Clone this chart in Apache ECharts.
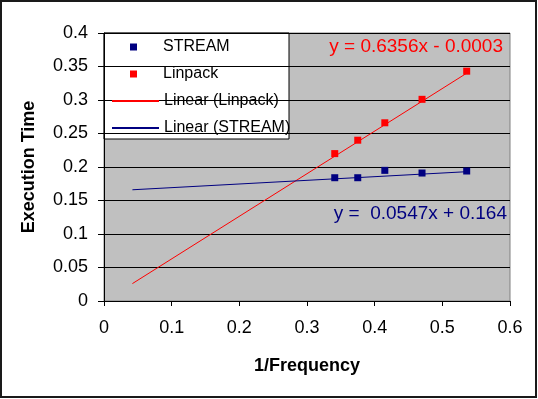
<!DOCTYPE html>
<html>
<head>
<meta charset="utf-8">
<script src="https://cdn.jsdelivr.net/npm/echarts@6/dist/echarts.min.js"></script>
<style>
  html, body { margin: 0; padding: 0; background: #fff; }
  #chart { width: 538px; height: 399px; }
</style>
</head>
<body>
<div id="chart"></div>
<script>
// values
const invFreq = [0.341, 0.375, 0.415, 0.470, 0.536]
const linpack = [0.220, 0.240, 0.266, 0.301, 0.343]
const stream = [0.184, 0.184, 0.195, 0.191, 0.194]
// trend lines (endpoints as drawn)
const trendX = [0.042, 0.536]
const linpackTrend = [0.026, 0.340]
const streamTrend = [0.166, 0.193]
const xTicks = ['0', '0.1', '0.2', '0.3', '0.4', '0.5', '0.6']
const yTicks = ['0', '0.05', '0.1', '0.15', '0.2', '0.25', '0.3', '0.35', '0.4']

const pairs = (xs, ys) => xs.map((x, i) => [x, ys[i]])
const font = 'Liberation Sans, Arial, sans-serif'

const chart = echarts.init(document.getElementById('chart'))

chart.setOption({
  animation: false,
  textStyle: { fontFamily: font },
  grid: {
    left: 104, top: 33, right: 28, bottom: 98,
    show: true,
    backgroundColor: '#c0c0c0',
    borderColor: '#808080',
    borderWidth: 1
  },
  xAxis: {
    type: 'value',
    min: 0, max: 0.6, interval: 0.1,
    name: '1/Frequency',
    nameLocation: 'middle',
    nameGap: 56,
    nameTextStyle: { fontSize: 18, fontWeight: 'bold', color: '#000' },
    axisLine: { show: true, lineStyle: { color: '#000', width: 1 } },
    axisTick: { show: true, length: 5, lineStyle: { color: '#000' } },
    axisLabel: {
      fontSize: 18, color: '#000', margin: 18,
      formatter: (v) => xTicks[Math.round(v * 10)]
    },
    splitLine: { show: false }
  },
  yAxis: {
    type: 'value',
    min: 0, max: 0.4, interval: 0.05,
    name: 'Execution Time',
    nameLocation: 'middle',
    nameGap: 66,
    nameTextStyle: { fontSize: 18, fontWeight: 'bold', color: '#000' },
    axisLine: { show: true, lineStyle: { color: '#000', width: 1 } },
    axisTick: { show: true, length: 6, lineStyle: { color: '#000' } },
    axisLabel: {
      fontSize: 18, color: '#000', margin: 16,
      formatter: (v) => yTicks[Math.round(v * 20)]
    },
    splitLine: { show: true, lineStyle: { color: '#000', width: 1 } }
  },
  legend: [
    {
      orient: 'vertical',
      left: 130, top: 39,
      padding: 0,
      itemWidth: 7, itemHeight: 7,
      itemGap: 11,
      icon: 'rect',
      textStyle: { fontSize: 16, color: '#000', padding: [0, 0, 0, 21] },
      data: ['STREAM', 'Linpack']
    },
    {
      orient: 'vertical',
      left: 111, top: 93,
      padding: 0,
      itemWidth: 47, itemHeight: 14,
      itemGap: 11,
      itemStyle: { opacity: 0 },
      textStyle: { fontSize: 16, color: '#000' },
      data: ['Linear (Linpack)', 'Linear (STREAM)']
    }
  ],
  graphic: [
    {
      type: 'rect', z: 0, silent: true,
      shape: { x: 104, y: 33, width: 185, height: 106 },
      style: { fill: '#fff', stroke: '#000', lineWidth: 1 }
    },
    {
      type: 'text', z: 10, silent: true,
      x: 503, y: 47,
      style: {
        text: 'y = 0.6356x - 0.0003', fill: '#ff0000',
        font: '19px ' + font, align: 'right', verticalAlign: 'middle'
      }
    },
    {
      type: 'text', z: 10, silent: true,
      x: 507, y: 214,
      style: {
        text: 'y =  0.0547x + 0.164', fill: '#000080',
        font: '19px ' + font, align: 'right', verticalAlign: 'middle'
      }
    },
    {
      type: 'rect', z: 20, silent: true,
      shape: { x: 1, y: 1, width: 535, height: 396 },
      style: { fill: 'none', stroke: '#1a1a1a', lineWidth: 2 }
    }
  ],
  series: [
    {
      name: 'Linear (Linpack)',
      type: 'line',
      data: pairs(trendX, linpackTrend),
      symbol: 'none',
      lineStyle: { color: '#ff0000', width: 1 },
      itemStyle: { color: '#ff0000' },
      z: 2
    },
    {
      name: 'Linear (STREAM)',
      type: 'line',
      data: pairs(trendX, streamTrend),
      symbol: 'none',
      lineStyle: { color: '#000080', width: 1 },
      itemStyle: { color: '#000080' },
      z: 2
    },
    {
      name: 'STREAM',
      type: 'scatter',
      data: pairs(invFreq, stream),
      symbol: 'rect',
      symbolSize: 7,
      itemStyle: { color: '#000080', opacity: 1 },
      z: 3
    },
    {
      name: 'Linpack',
      type: 'scatter',
      data: pairs(invFreq, linpack),
      symbol: 'rect',
      symbolSize: 7,
      itemStyle: { color: '#ff0000', opacity: 1 },
      z: 3
    }
  ]
})
</script>
</body>
</html>
